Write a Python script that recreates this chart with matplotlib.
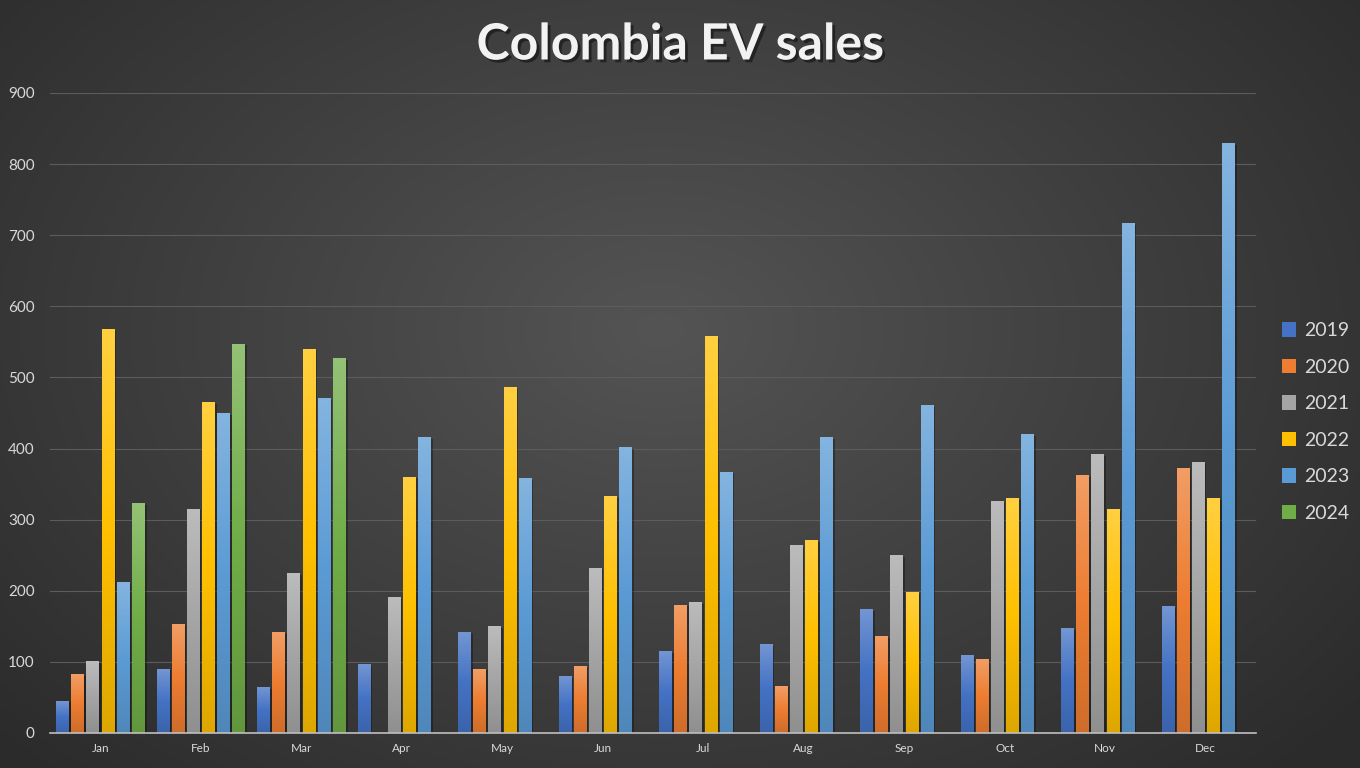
import numpy as np
import matplotlib
matplotlib.use("Agg")
import matplotlib.pyplot as plt
import matplotlib.patheffects as pe
from matplotlib.colors import to_rgb
from matplotlib.patches import Patch

months = ["Jan", "Feb", "Mar", "Apr", "May", "Jun", "Jul", "Aug", "Sep", "Oct", "Nov", "Dec"]
years = ["2019", "2020", "2021", "2022", "2023", "2024"]

sales_2019 = [45, 90, 64, 96, 142, 80, 114, 125, 174, 109, 147, 178]
sales_2020 = [82, 152, 141, 0, 90, 94, 180, 66, 136, 104, 362, 372]
sales_2021 = [100, 315, 224, 190, 150, 232, 184, 263, 250, 325, 391, 380]
sales_2022 = [567, 465, 540, 360, 486, 332, 557, 271, 198, 330, 314, 330]
sales_2023 = [212, 449, 470, 415, 358, 402, 367, 416, 460, 420, 716, 829]
sales_2024 = [323, 547, 526, 0, 0, 0, 0, 0, 0, 0, 0, 0]

series = [sales_2019, sales_2020, sales_2021, sales_2022, sales_2023, sales_2024]
colors = ["#4472C4", "#ED7D31", "#A5A5A5", "#FFC000", "#5B9BD5", "#70AD47"]

plt.rcParams["font.family"] = ["Lato", "DejaVu Sans"]

fig = plt.figure(figsize=(13.6, 7.68), dpi=100)

# dark radial background
bg = fig.add_axes([0, 0, 1, 1], zorder=-10)
bg.axis("off")
yy, xx = np.mgrid[0:768, 0:1360]
d = np.sqrt(((xx - 660) / 950.0) ** 2 + ((yy - 330) / 650.0) ** 2)
shade = np.clip(0.33 - 0.17 * d, 0.17, 0.33)
bg.imshow(np.dstack([shade, shade, shade]), extent=(0, 1, 0, 1), aspect="auto")
bg.set_xlim(0, 1)
bg.set_ylim(0, 1)

ax = fig.add_axes([50 / 1360, 35 / 768, 1206 / 1360, 640 / 768])
ax.patch.set_alpha(0)

x = np.arange(len(months))
step = 0.151
width = 0.124

handles = []
for j, (vals, col) in enumerate(zip(series, colors)):
    pos = x + (j - 2.5) * step
    bars = ax.bar(pos, vals, width, color=col, zorder=2,
                  path_effects=[pe.SimplePatchShadow(offset=(1.5, -1), shadow_rgbFace="black", alpha=0.3),
                                pe.Normal()])
    base = np.array(to_rgb(col))
    top = base + (1 - base) * 0.25
    bottom = base * 0.87
    n = 64
    t = np.linspace(0, 1, n)[:, None]
    grad = np.where(t < 0.5, top + (base - top) * (t / 0.5), base + (bottom - base) * ((t - 0.5) / 0.5))
    img = grad[:, None, :]
    for b in bars:
        h = b.get_height()
        if h <= 0:
            continue
        x0 = b.get_x()
        ax.imshow(img, extent=(x0, x0 + width, 0, h), aspect="auto", zorder=3, interpolation="bilinear")
    handles.append(Patch(facecolor=col, label=years[j]))

ax.set_xlim(-0.5, len(months) - 0.5)
ax.set_ylim(0, 900)
ax.set_yticks(np.arange(0, 901, 100))
ax.set_xticks(x)
ax.set_xticklabels(months)
ax.yaxis.grid(True, color="#5c5c5c", linewidth=0.8)
ax.set_axisbelow(True)
for s in ["top", "right", "left"]:
    ax.spines[s].set_visible(False)
ax.spines["bottom"].set_color("#bfbfbf")
ax.spines["bottom"].set_linewidth(1.2)
ax.spines["bottom"].set_zorder(5)
ax.tick_params(axis="y", length=0, labelsize=11, labelcolor="#d9d9d9", pad=11)
ax.tick_params(axis="x", length=0, labelsize=8.5, labelcolor="#d9d9d9", pad=7)

fig.text(0.5, 1 - 45 / 768, "Colombia EV sales", ha="center", va="center", fontsize=36, fontweight="bold",
         color="#f2f2f2",
         path_effects=[pe.withSimplePatchShadow(offset=(2, -2), shadow_rgbFace="black", alpha=0.45)])

leg = fig.legend(handles=handles, loc="center left", bbox_to_anchor=(1264 / 1360, 1 - 422 / 768),
                 frameon=False, fontsize=14, labelcolor="#d9d9d9", handlelength=0.75, handleheight=0.75,
                 handletextpad=0.4, labelspacing=1.0)

fig.savefig("out.png", dpi=100, facecolor="#333333")
